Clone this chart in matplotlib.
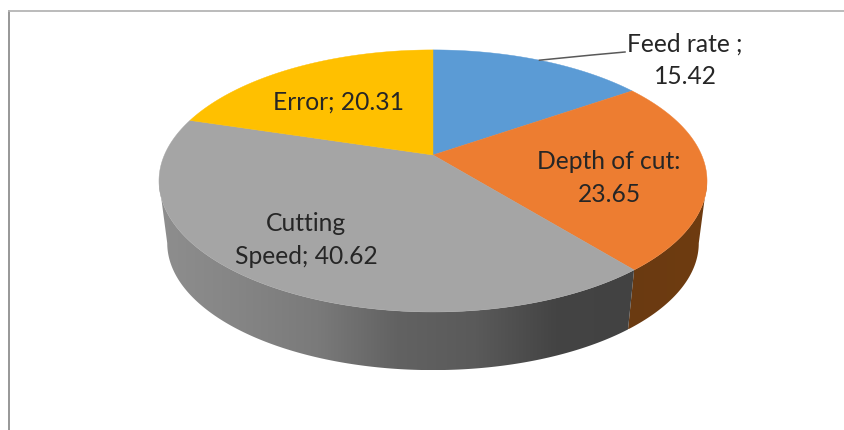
import matplotlib
matplotlib.use('Agg')
import matplotlib.pyplot as plt
import numpy as np
from matplotlib.colors import LinearSegmentedColormap
from matplotlib.patches import Polygon

# Data
names = ["Feed rate", "Depth of cut", "Cutting Speed", "Error"]
values = [15.42, 23.65, 40.62, 20.31]
labels = ["Feed rate ;\n15.42", "Depth of cut:\n23.65", "Cutting\nSpeed; 40.62", "Error; 20.31"]

top_colors = ["#5b9bd5", "#ed7d31", "#a5a5a5", "#ffc000"]
side_colors = [
    ["#2f5f8f", "#2f5f8f"],
    ["#6a3a12", "#6f3c10"],
    ["#8e8e8e", "#858585", "#7a7a7a", "#626262", "#5a5a5a", "#444444", "#424242"],
    ["#a08000", "#a08000"],
]
label_pos = [(685, 60), (609, 178), (306, 240), (339, 102)]

# Pie geometry in pixels, perspective keeps the apex above the middle of the ellipse
cx = 433
top_face = dict(y0=155, kx=268.6, ky=125.9)
bottom_rim = dict(y0=218, kx=260.5, ky=122)
persp = 0.198
# Rim angles where the wall meets the silhouette of the ellipse
vis_start = np.arccos(-persp)
vis_end = 2 * np.pi - vis_start


def rim(theta, y0, kx, ky):
    u, v = np.sin(theta), np.cos(theta)
    w = 1 + persp * v
    return cx + kx * u / w, y0 - ky * v / w


plt.rcParams['font.family'] = ['Lato', 'DejaVu Sans']
fig = plt.figure(figsize=(8.45, 4.3), dpi=100)
ax = fig.add_axes([0, 0, 1, 1])
ax.set_xlim(0, 845)
ax.set_ylim(430, 0)
ax.axis('off')

# Chart frame
ax.plot([9.5, 9.5], [430, 11], color="#8f8f8f", lw=1.3)
ax.plot([9, 845], [11, 11], color="#b5b5b5", lw=1.3)

edges = 2 * np.pi * np.cumsum([0] + values) / sum(values)

# Side wall, shaded from left to right
for i in range(len(values)):
    a = max(edges[i], vis_start)
    b = min(edges[i + 1], vis_end)
    if a >= b:
        continue
    t = np.linspace(a, b, 200)
    xa, ya = rim(t, **top_face)
    xb, yb = rim(t, **bottom_rim)
    pts = np.column_stack([np.r_[xa, xb[::-1]], np.r_[ya, yb[::-1]]])
    poly = Polygon(pts, closed=True, fc='none', ec='none', transform=ax.transData)
    ax.add_patch(poly)
    cmap = LinearSegmentedColormap.from_list("side", side_colors[i])
    x0, x1 = pts[:, 0].min(), pts[:, 0].max()
    im = ax.imshow(np.linspace(0, 1, 256)[None, :], cmap=cmap, aspect='auto',
                   extent=[x0, x1, pts[:, 1].max(), pts[:, 1].min()], zorder=2)
    im.set_clip_path(poly)
ax.set_xlim(0, 845)
ax.set_ylim(430, 0)

# Top face
for i in range(len(values)):
    t = np.linspace(edges[i], edges[i + 1], 200)
    x, y = rim(t, **top_face)
    pts = np.column_stack([np.r_[cx, x], np.r_[top_face['y0'], y]])
    ax.add_patch(Polygon(pts, closed=True, fc=top_colors[i], ec=top_colors[i], lw=0.3, zorder=3))

# Leader from the middle of the first slice's rim to its label
mid = (edges[0] + edges[1]) / 2
lx, ly = rim(mid, **top_face)
ax.plot([lx, 592, 625], [ly, 55, 52], color="#595959", lw=1.1, zorder=4)

for lab, (x, y) in zip(labels, label_pos):
    ax.text(x, y, lab, ha='center', va='center', fontsize=17.7, color="#262626",
            linespacing=1.5, zorder=5)

fig.savefig("out.png", dpi=100)
